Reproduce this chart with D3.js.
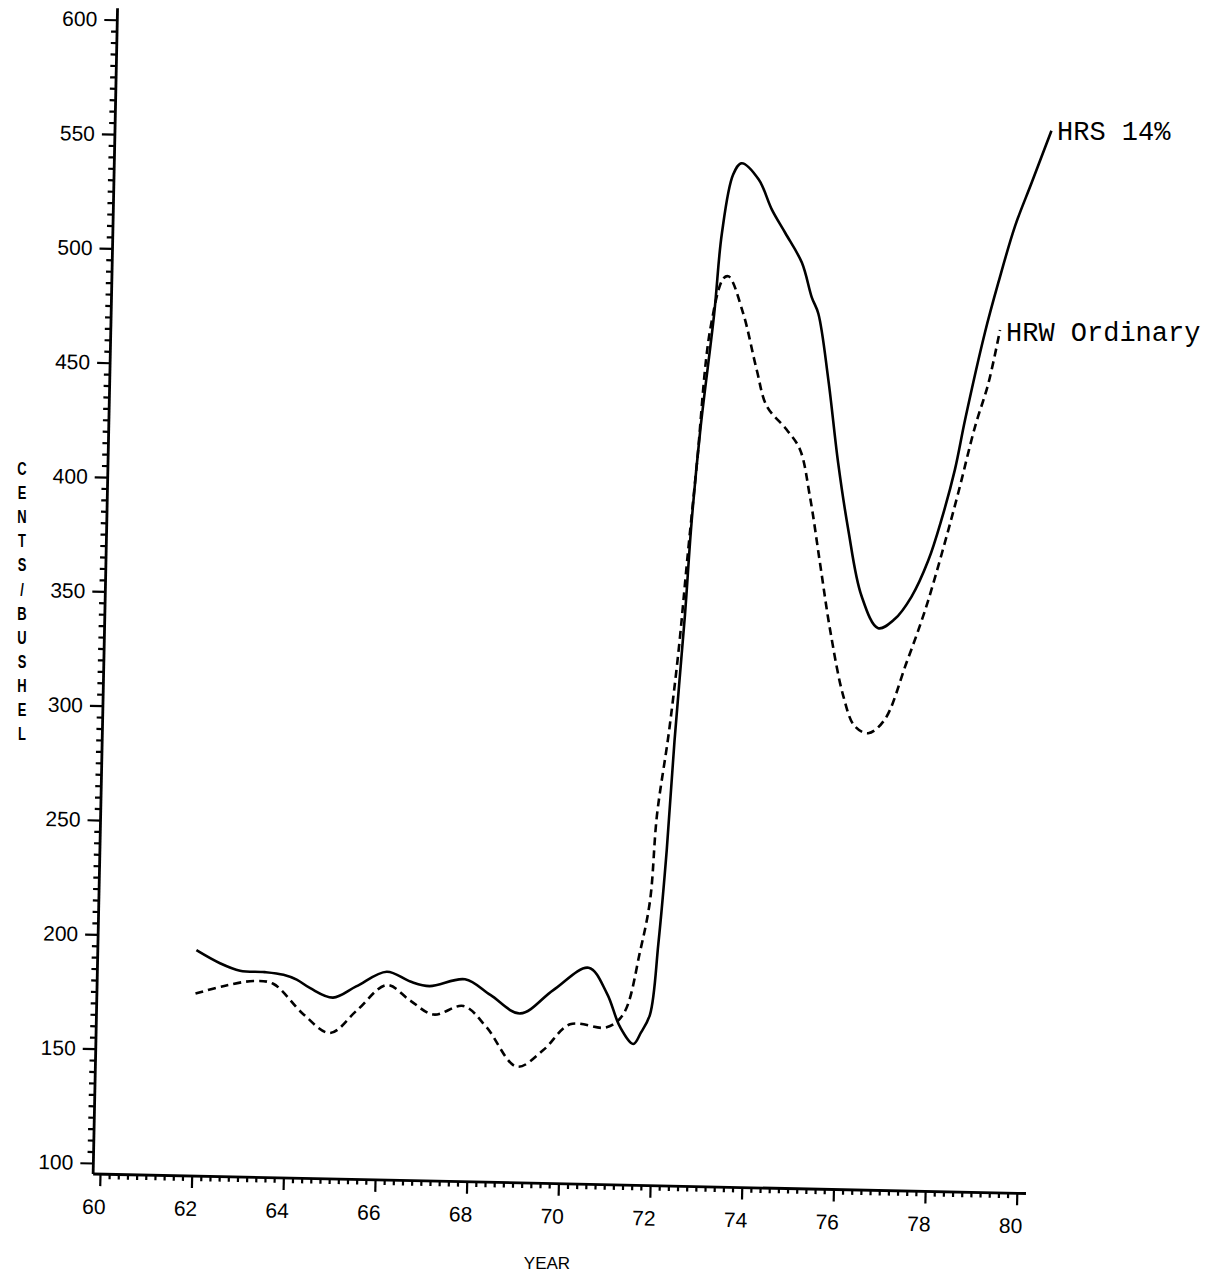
<!DOCTYPE html>
<html>
<head>
<meta charset="utf-8">
<script src="https://cdn.jsdelivr.net/npm/d3@7"></script>
<style>
  html, body { margin: 0; padding: 0; background: #fff; }
  svg { display: block; }
</style>
</head>
<body>
<svg id="chart" width="1216" height="1280"></svg>
<script>
// ---- data ----
const hrsYears = [62.0, 62.52, 62.96, 63.5, 63.91, 64.2, 64.5, 65.0, 65.5, 66.16, 66.68, 67.1, 67.87, 68.43, 69.09, 69.8, 70.56, 70.97, 71.27, 71.57, 71.73, 71.92, 72.07, 72.21, 72.33, 72.5, 72.6, 72.75, 73.0, 73.13, 73.35, 73.53, 73.91, 74.21, 74.51, 74.89, 75.12, 75.27, 75.52, 75.77, 76.02, 76.34, 76.72, 77.07, 77.43, 77.78, 78.05, 78.32, 78.52, 78.91, 79.18, 79.52, 79.86, 80.27];
const hrsValues = [194, 188.5, 185.4, 185, 184, 182, 178.4, 174.5, 179.6, 186.3, 182.2, 180.4, 183.7, 177.1, 169.3, 179.8, 189.9, 178.9, 164.4, 157, 162, 170, 201, 242, 290, 345, 385, 426, 477, 512, 538, 543, 536, 523, 513, 500, 485, 478, 449, 413, 384, 355, 341, 345, 355, 371, 389, 411, 433, 471, 493, 518, 537, 560];

const hrwYears = [62.0, 62.6, 63.26, 63.69, 64.36, 64.95, 65.52, 66.17, 66.68, 67.2, 67.85, 68.36, 69.04, 69.61, 70.18, 70.98, 71.34, 71.68, 71.87, 71.98, 72.2, 72.38, 72.52, 72.69, 72.92, 73.19, 73.3, 73.63, 73.95, 74.19, 74.63, 74.93, 75.17, 75.42, 75.67, 75.99, 76.25, 76.55, 76.9, 77.35, 77.73, 78.07, 78.4, 78.74, 79.01, 79.24];
const hrwValues = [175, 178.5, 181, 180, 167, 159, 169, 180.5, 174, 168, 172, 163, 146, 153.5, 165, 164, 170, 198, 220, 257, 293, 330, 368, 411, 470, 492.6, 493.4, 477.5, 453, 437, 427, 418.5, 398, 369, 340, 311, 298, 295, 301, 326, 349, 374, 400.6, 430, 449, 472.5];

const xMajorTicks = [60, 62, 64, 66, 68, 70, 72, 74, 76, 78, 80];
const yMajorTicks = [100, 150, 200, 250, 300, 350, 400, 450, 500, 550, 600];
const seriesLabels = ["HRS 14%", "HRW Ordinary"];
const yTitle = "CENTS/BUSHEL";
const xTitle = "YEAR";

// ---- layout ----
const svg = d3.select("#chart");
const x = d3.scaleLinear().domain([60, 80]).range([100, 1017]);
const y = d3.scaleLinear().domain([100, 600]).range([1163, 19.5]);
const xAxisStart = 59.85, xAxisEnd = 80.2;
const yAxisStart = 95.2, yAxisEnd = 605;
const corner = [x(xAxisStart), y(yAxisStart)];
const tilt = 1.2; // scanned page is slightly rotated

const g = svg.append("g").attr("transform", `rotate(${tilt},${corner[0]},${corner[1]})`);

const numFont = "'Liberation Sans', Arial, sans-serif";

const yMinor = d3.range(100, 601, 5).filter(v => v % 50 !== 0);
const xMinor = d3.range(0, 101).map(i => +(60 + i * 0.2).toFixed(2)).filter(v => Math.abs(v / 2 - Math.round(v / 2)) > 1e-6);

function styleAxis(sel) {
  sel.selectAll(".domain").remove();
  sel.selectAll("line").attr("stroke", "#000").attr("stroke-width", 2.2);
  sel.selectAll("text").attr("font-family", numFont).attr("font-size", 21).attr("fill", "#000");
}

const yMinorG = g.append("g").attr("transform", `translate(${corner[0]},0)`)
  .call(d3.axisLeft(y).tickValues(yMinor).tickSize(6).tickFormat(""));
styleAxis(yMinorG);
const yMajorG = g.append("g").attr("transform", `translate(${corner[0]},0)`)
  .call(d3.axisLeft(y).tickValues(yMajorTicks).tickSize(13).tickPadding(7).tickFormat(d3.format("d")));
styleAxis(yMajorG);

const xMinorG = g.append("g").attr("transform", `translate(0,${corner[1]})`)
  .call(d3.axisBottom(x).tickValues(xMinor).tickSize(5).tickFormat(""));
styleAxis(xMinorG);
const xMajorG = g.append("g").attr("transform", `translate(0,${corner[1]})`)
  .call(d3.axisBottom(x).tickValues(xMajorTicks).tickSize(12).tickPadding(13).tickFormat(d3.format("d")));
styleAxis(xMajorG);
xMajorG.selectAll("text").attr("dx", -6);

// axis lines
g.append("line").attr("x1", corner[0]).attr("y1", corner[1]).attr("x2", corner[0]).attr("y2", y(yAxisEnd))
  .attr("stroke", "#000").attr("stroke-width", 2.8);
g.append("line").attr("x1", corner[0]).attr("y1", corner[1]).attr("x2", x(xAxisEnd)).attr("y2", corner[1])
  .attr("stroke", "#000").attr("stroke-width", 2.8);

// lines
const line = d3.line().x(d => x(d[0])).y(d => y(d[1])).curve(d3.curveCatmullRom.alpha(0.5));
const hrs = hrsYears.map((yr, i) => [yr, hrsValues[i]]);
const hrw = hrwYears.map((yr, i) => [yr, hrwValues[i]]);

g.append("path").datum(hrs).attr("d", line).attr("fill", "none").attr("stroke", "#000")
  .attr("stroke-width", 2.6).attr("stroke-linejoin", "round");
g.append("path").datum(hrw).attr("d", line).attr("fill", "none").attr("stroke", "#000")
  .attr("stroke-width", 2.6).attr("stroke-dasharray", "8,5");

// annotations (typed on the page, not rotated)
const monoFont = "'Liberation Mono', 'DejaVu Sans Mono', monospace";
svg.append("text").attr("x", 1057).attr("y", 140).text(seriesLabels[0])
  .attr("font-family", monoFont).attr("font-size", 27).attr("fill", "#000");
svg.append("text").attr("x", 1006).attr("y", 341).text(seriesLabels[1])
  .attr("font-family", monoFont).attr("font-size", 27).attr("fill", "#000");

// y title as stacked letters
const yt = svg.append("g");
yTitle.split("").forEach((ch, i) => {
  yt.append("text")
    .attr("transform", `translate(22,${475 + i * 24.1}) scale(0.72,1)`)
    .attr("text-anchor", "middle")
    .attr("font-family", numFont).attr("font-size", 18).attr("font-weight", "bold").attr("fill", "#000")
    .text(ch);
});

svg.append("text").attr("x", 547).attr("y", 1269).attr("text-anchor", "middle")
  .attr("font-family", numFont).attr("font-size", 17).attr("fill", "#000").text(xTitle);
</script>
</body>
</html>
